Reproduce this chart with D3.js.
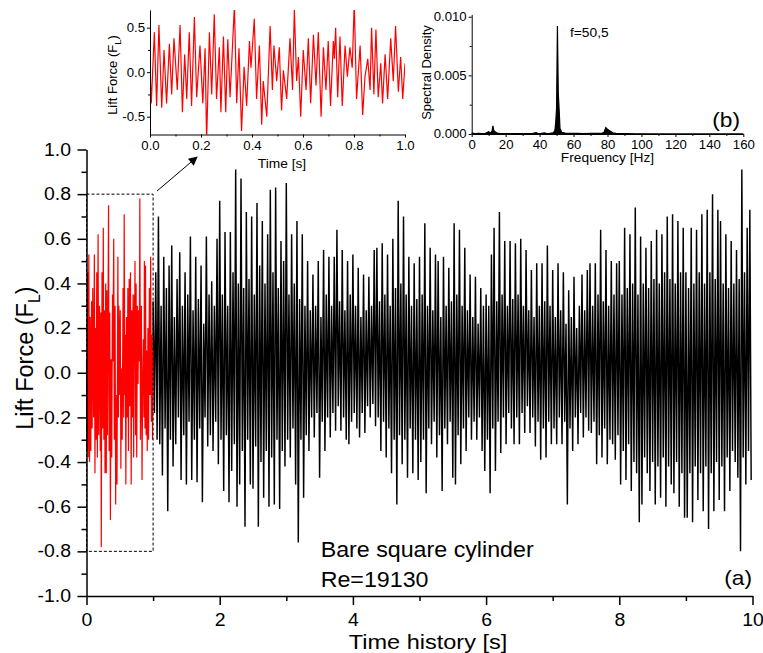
<!DOCTYPE html>
<html>
<head>
<meta charset="utf-8">
<script src="https://cdn.jsdelivr.net/npm/d3@7"></script>
<style>
  body { margin: 0; background: #fff; }
  svg { display: block; font-family: "Liberation Sans", Arial, sans-serif; }
</style>
</head>
<body>
<div id="chart"></div>
<script>
// ---- data ----

// red part (0..1 s), also shown in inset (a)
const redTime = [0.000,0.005,0.017,0.026,0.035,0.046,0.055,0.065,0.076,0.085,
  0.094,0.107,0.118,0.127,0.136,0.144,0.154,0.163,0.174,0.183,
  0.196,0.207,0.216,0.222,0.233,0.242,0.252,0.261,0.272,0.278,
  0.288,0.297,0.305,0.314,0.331,0.340,0.349,0.359,0.369,0.379,
  0.390,0.396,0.409,0.418,0.429,0.438,0.444,0.458,0.471,0.480,
  0.486,0.497,0.507,0.516,0.523,0.536,0.549,0.559,0.566,0.575,
  0.582,0.591,0.601,0.612,0.621,0.630,0.641,0.651,0.660,0.671,
  0.680,0.690,0.699,0.708,0.719,0.723,0.728,0.736,0.745,0.754,
  0.765,0.774,0.784,0.793,0.801,0.810,0.824,0.834,0.843,0.854,
  0.863,0.869,0.878,0.886,0.895,0.905,0.912,0.922,0.932,0.944,
  0.954,0.963,0.974,0.983,0.991,1.000];
const redForce = [0.05,-0.35,0.45,-0.38,0.53,-0.40,0.25,-0.35,0.32,-0.25,
  0.38,-0.20,0.53,-0.45,0.20,-0.30,0.45,-0.38,0.62,-0.28,
  0.30,-0.35,0.27,-0.78,0.45,-0.25,0.65,-0.30,0.28,-0.45,
  0.40,-0.45,0.37,-0.28,0.75,-0.35,0.27,-0.66,0.06,-0.38,
  0.35,0.05,0.60,-0.30,0.30,-0.59,-0.10,-0.50,0.52,-0.20,
  0.30,-0.10,0.28,-0.43,0.02,-0.30,0.38,-0.20,0.71,-0.10,
  0.17,-0.50,0.25,-0.20,0.38,-0.35,0.42,-0.15,0.45,-0.50,
  0.28,-0.20,0.35,-0.38,0.35,0.15,0.50,-0.28,0.40,-0.38,
  0.30,-0.05,0.28,0.05,0.78,-0.30,0.30,-0.48,-0.05,0.15,
  -0.20,0.50,-0.25,0.48,-0.28,0.10,-0.35,0.20,-0.30,0.38,
  -0.10,0.52,-0.22,0.17,-0.30,0.10];

// black part (1..10 s): crests at 1.00 + 0.04k, troughs at 1.02 + 0.04k
const blackStart = 1.0;
const blackStep = 0.02;
const blackPeaks = [
  0.32,0.45,0.70,0.30,0.52,0.38,0.48,0.57,0.25,0.42,0.54,0.30,0.45,0.35,0.61,0.28,0.52,0.33,0.48,0.22,0.61,0.35,0.41,0.30,0.60,
  0.77,0.35,0.63,0.30,0.63,0.45,0.91,0.40,0.87,0.38,0.72,0.42,0.70,0.35,0.76,0.48,0.68,0.40,0.62,0.82,0.45,0.83,0.38,0.59,0.50,
  0.85,0.35,0.62,0.40,0.68,0.33,0.62,0.30,0.50,0.28,0.44,0.30,0.50,0.25,0.55,0.35,0.52,0.30,0.52,0.64,0.32,0.55,0.28,0.50,0.35,
  0.53,0.30,0.47,0.25,0.44,0.28,0.43,0.30,0.55,0.56,0.32,0.58,0.35,0.53,0.30,0.60,0.38,0.77,0.40,0.70,0.35,0.52,0.30,0.49,0.33,
  0.52,0.35,0.67,0.30,0.56,0.28,0.53,0.50,0.25,0.52,0.30,0.47,0.32,0.67,0.35,0.64,0.30,0.56,0.28,0.44,0.25,0.43,0.22,0.38,0.30,
  0.35,0.30,0.53,0.65,0.32,0.72,0.35,0.59,0.30,0.59,0.33,0.58,0.35,0.60,0.30,0.55,0.28,0.46,0.25,0.49,0.30,0.49,0.32,0.57,0.30,
  0.46,0.25,0.49,0.28,0.45,0.22,0.37,0.25,0.43,0.20,0.30,0.44,0.28,0.46,0.49,0.30,0.49,0.35,0.64,0.32,0.55,0.30,0.50,0.35,0.49,
  0.50,0.35,0.65,0.38,0.62,0.40,0.74,0.35,0.61,0.40,0.56,0.38,0.59,0.42,0.64,0.40,0.62,0.45,0.70,0.42,0.71,0.40,0.68,0.45,0.65,
  0.45,0.38,0.65,0.40,0.64,0.45,0.71,0.40,0.73,0.45,0.80,0.42,0.73,0.68,0.40,0.62,0.38,0.59,0.40,0.55,0.42,0.91,0.45,0.65,0.73];
const blackTroughs = [
  -0.18,-0.30,-0.32,-0.46,-0.25,-0.62,-0.30,-0.42,-0.32,-0.20,-0.48,-0.28,-0.50,-0.22,-0.48,-0.30,-0.49,-0.25,-0.58,-0.20,-0.33,-0.28,-0.35,-0.22,-0.41,
  -0.30,-0.53,-0.28,-0.58,-0.44,-0.32,-0.60,-0.50,-0.35,-0.69,-0.30,-0.50,-0.52,-0.33,-0.69,-0.40,-0.56,-0.35,-0.60,-0.38,-0.59,-0.30,-0.61,-0.35,-0.42,
  -0.30,-0.38,-0.25,-0.50,-0.76,-0.30,-0.56,-0.28,-0.35,-0.20,-0.29,-0.18,-0.47,-0.22,-0.35,-0.20,-0.29,-0.18,-0.26,-0.15,-0.26,-0.20,-0.30,-0.32,-0.22,
  -0.18,-0.25,-0.29,-0.18,-0.27,-0.15,-0.20,-0.14,-0.24,-0.20,-0.35,-0.22,-0.38,-0.25,-0.45,-0.30,-0.59,-0.28,-0.41,-0.30,-0.47,-0.25,-0.45,-0.30,-0.48,
  -0.40,-0.30,-0.54,-0.25,-0.32,-0.22,-0.38,-0.28,-0.53,-0.25,-0.32,-0.22,-0.47,-0.50,-0.28,-0.41,-0.25,-0.35,-0.20,-0.30,-0.22,-0.30,-0.20,-0.35,-0.44,
  -0.30,-0.54,-0.25,-0.44,-0.22,-0.36,-0.20,-0.32,-0.18,-0.25,-0.32,-0.20,-0.32,-0.18,-0.27,-0.15,-0.27,-0.20,-0.33,-0.22,-0.39,-0.25,-0.38,-0.22,-0.32,
  -0.25,-0.32,-0.20,-0.32,-0.22,-0.59,-0.25,-0.35,-0.20,-0.32,-0.18,-0.29,-0.20,-0.26,-0.27,-0.22,-0.41,-0.28,-0.38,-0.25,-0.41,-0.30,-0.32,-0.39,-0.28,
  -0.50,-0.35,-0.48,-0.32,-0.53,-0.40,-0.45,-0.67,-0.59,-0.38,-0.45,-0.53,-0.40,-0.59,-0.42,-0.56,-0.38,-0.60,-0.42,-0.50,-0.54,-0.40,-0.60,-0.45,-0.65,
  -0.65,-0.45,-0.67,-0.42,-0.57,-0.45,-0.62,-0.42,-0.70,-0.45,-0.62,-0.40,-0.57,-0.42,-0.62,-0.38,-0.53,-0.35,-0.40,-0.47,-0.80,-0.38,-0.50,-0.35,-0.48];

// inset (b): spectrum
const specFreq = [0,2,4,6,8,9,10,11,12,12.5,13,14,15,17,20,24,28,32,36,38,
  39,41,43,44,46,48,49,49.5,50,50.5,51,51.5,52,53,55,58,62,66,70,74,
  77,78,79,80,81,82,83,85,88,92,96,100,110,120,130,140,150,160];
const specDensity = [0.00008,0.00004,0.00005,0.00003,0.00006,0.00012,0.0002,0.00008,0.00025,0.0007,
  0.0003,0.00018,0.00008,0.00004,0.00003,0.00004,0.00003,0.00004,0.00005,0.00012,
  0.00004,0.00005,0.0001,0.00004,0.00006,0.0001,0.0003,0.001,0.0022,0.0092,
  0.0035,0.0021,0.0005,0.00015,0.00008,0.00005,0.00006,0.00004,0.00006,0.00005,
  0.00008,0.00015,0.00055,0.0004,0.0003,0.00022,0.0001,0.00005,0.00003,0.00004,
  0.00002,0.00002,0.00001,0.00001,0.00001,0.00001,0.00001,0.00001];

// ticks
const mainXTicks = [0, 2, 4, 6, 8, 10];
const mainXMinor = [1, 3, 5, 7, 9];
const mainYTicks = [-1.0, -0.8, -0.6, -0.4, -0.2, 0.0, 0.2, 0.4, 0.6, 0.8, 1.0];
const mainYMinor = [-0.9, -0.7, -0.5, -0.3, -0.1, 0.1, 0.3, 0.5, 0.7, 0.9];
const insetTimeTicks = [0, 0.2, 0.4, 0.6, 0.8, 1.0];
const insetTimeMinor = [0.1, 0.3, 0.5, 0.7, 0.9];
const insetForceTicks = [-0.5, 0, 0.5];
const insetForceMinor = [-0.25, 0.25];
const freqTicks = [0, 20, 40, 60, 80, 100, 120, 140, 160];
const freqMinor = [10, 30, 50, 70, 90, 110, 130, 150];
const densityTicks = [0, 0.005, 0.010];
const densityMinor = [0.0025, 0.0075];

// ---- drawing ----
const FONT = '"Liberation Sans", Arial, sans-serif';
const svg = d3.select('#chart').append('svg').attr('width', 763).attr('height', 653);

// the original figure is a bit wider than tall, widen horizontal texts to match
function stretchText(sel, k) {
  sel.each(function () {
    const len = this.getComputedTextLength();
    d3.select(this).attr('textLength', len * k).attr('lengthAdjust', 'spacingAndGlyphs');
  });
}

function addAxis(orient, scale, at, o) {
  const make = orient === 'left' ? d3.axisLeft : d3.axisBottom;
  const tr = orient === 'left' ? `translate(${at},0)` : `translate(0,${at})`;

  const minor = svg.append('g').attr('transform', tr)
    .call(make(scale).tickValues(o.minor).tickSize(o.minorSize).tickSizeOuter(0).tickFormat(''));
  minor.select('.domain').remove();
  minor.selectAll('line').attr('stroke-width', o.width);

  const major = svg.append('g').attr('transform', tr)
    .call(make(scale).tickValues(o.major).tickSize(o.size).tickSizeOuter(0)
      .tickPadding(o.pad).tickFormat(o.format));
  major.attr('font-family', FONT).attr('font-size', o.fontSize);
  major.selectAll('path, line').attr('stroke-width', o.width);
  major.selectAll('text').attr('fill', '#000').call(stretchText, o.stretch);
  return major;
}

function addText(str, px, py, size, anchor, k) {
  const t = svg.append('text')
    .attr('x', px).attr('y', py)
    .attr('font-size', size)
    .attr('text-anchor', anchor)
    .text(str);
  if (k) t.call(stretchText, k);
  return t;
}

function addRotatedTitle(cx, cy, size, subSize, main, sub, tail) {
  const t = svg.append('text')
    .attr('transform', `translate(${cx},${cy}) rotate(-90)`)
    .attr('text-anchor', 'middle')
    .attr('font-size', size);
  t.append('tspan').text(main);
  t.append('tspan').attr('font-size', subSize).attr('dy', size * 0.28).text(sub);
  t.append('tspan').attr('dy', -size * 0.28).text(tail);
}

// main panel (a)
const x = d3.scaleLinear().domain([0, 10]).range([86.5, 752.5]);
const y = d3.scaleLinear().domain([-1, 1]).range([596, 149.5]);

const redSeries = redTime.map((t, i) => ({ t, v: redForce[i] }));
const blackSeries = [redSeries[redSeries.length - 1]];
blackPeaks.forEach((p, k) => {
  blackSeries.push({ t: blackStart + 2 * k * blackStep, v: p });
  blackSeries.push({ t: blackStart + (2 * k + 1) * blackStep, v: blackTroughs[k] });
});

const mainLine = d3.line().x(d => x(d.t)).y(d => y(d.v));

svg.append('path').datum(blackSeries)
  .attr('d', mainLine).attr('fill', 'none').attr('stroke', '#000').attr('stroke-width', 1.45);
svg.append('path').datum(redSeries)
  .attr('d', mainLine).attr('fill', 'none').attr('stroke', '#ff0000').attr('stroke-width', 1.2);

addAxis('left', y, x(0), {
  major: mainYTicks, minor: mainYMinor, size: 9, minorSize: 5, pad: 6.5,
  format: d => d.toFixed(1), fontSize: 17.5, stretch: 1.11, width: 1.5,
});
addAxis('bottom', x, y(-1), {
  major: mainXTicks, minor: mainXMinor, size: 9, minorSize: 5, pad: 9,
  format: d => String(d), fontSize: 17.5, stretch: 1.11, width: 1.5,
});

addText('Time history [s]', 428, 648.5, 21, 'middle', 1.12);
addRotatedTitle(33, 358, 23.5, 16, 'Lift Force (F', 'L', ')');

addText('Bare square cylinder', 320.7, 556.7, 21.5, 'start', 1.08);
addText('Re=19130', 320.7, 586.7, 21.5, 'start', 1.08);
addText('(a)', 752, 584.5, 21, 'end', 1.08);

// zoom box and arrow
svg.append('rect')
  .attr('x', x(0)).attr('y', y(0.8))
  .attr('width', x(1) - x(0)).attr('height', y(-0.8) - y(0.8))
  .attr('fill', 'none').attr('stroke', '#000').attr('stroke-width', 1)
  .attr('stroke-dasharray', '3,2');

svg.append('defs').append('marker')
  .attr('id', 'head').attr('viewBox', '0 0 10 10')
  .attr('refX', 9).attr('refY', 5)
  .attr('markerWidth', 11).attr('markerHeight', 9)
  .attr('markerUnits', 'userSpaceOnUse')
  .attr('orient', 'auto')
  .append('path').attr('d', 'M0,0L10,5L0,10Z').attr('fill', '#000');

svg.append('line')
  .attr('x1', 157).attr('y1', 191).attr('x2', 197).attr('y2', 157)
  .attr('stroke', '#000').attr('stroke-width', 1)
  .attr('marker-end', 'url(#head)');

// inset (a): first second
const xa = d3.scaleLinear().domain([0, 1]).range([150, 405]);
const ya = d3.scaleLinear().domain([-0.7, 0.7]).range([134.5, 9.9]);

svg.select('defs').append('clipPath').attr('id', 'clipA')
  .append('rect').attr('x', xa(0)).attr('y', ya(0.7))
  .attr('width', xa(1) - xa(0)).attr('height', ya(-0.7) - ya(0.7));

svg.append('path').datum(redSeries)
  .attr('clip-path', 'url(#clipA)')
  .attr('d', d3.line().x(d => xa(d.t)).y(d => ya(d.v)))
  .attr('fill', 'none').attr('stroke', '#ff0000').attr('stroke-width', 1.2);

addAxis('left', ya, xa(0), {
  major: insetForceTicks, minor: insetForceMinor, size: 3, minorSize: 2, pad: 2,
  format: d => d.toFixed(1), fontSize: 12, stretch: 1.1, width: 1,
});
addAxis('bottom', xa, ya(-0.7), {
  major: insetTimeTicks, minor: insetTimeMinor, size: 3, minorSize: 2, pad: 4,
  format: d => d.toFixed(1), fontSize: 12, stretch: 1.1, width: 1,
});
addText('Time [s]', 282, 168, 12.5, 'middle', 1.1);
addRotatedTitle(117, 75, 13, 9.5, 'Lift Force (F', 'L', ')');

// inset (b): spectrum
const xb = d3.scaleLinear().domain([0, 160]).range([471.7, 743.3]);
const yb = d3.scaleLinear().domain([0, 0.0102]).range([134, 14.4]);
const spec = specFreq.map((f, i) => ({ f, s: specDensity[i] }));

svg.append('path').datum(spec)
  .attr('d', d3.area().x(d => xb(d.f)).y0(yb(0)).y1(d => yb(d.s)))
  .attr('fill', '#000');
svg.append('path').datum(spec)
  .attr('d', d3.line().x(d => xb(d.f)).y(d => yb(d.s)))
  .attr('fill', 'none').attr('stroke', '#000').attr('stroke-width', 1.2);

addAxis('left', yb, xb(0), {
  major: densityTicks, minor: densityMinor, size: 3, minorSize: 2, pad: 2,
  format: d => d.toFixed(3), fontSize: 12, stretch: 1.1, width: 1,
});
addAxis('bottom', xb, yb(0), {
  major: freqTicks, minor: freqMinor, size: 3, minorSize: 2, pad: 3,
  format: d => String(d), fontSize: 12, stretch: 1.1, width: 1,
});
addText('Frequency [Hz]', 607.5, 161.7, 12.5, 'middle', 1.1);
addText('f=50,5', 570, 37.3, 12.5, 'start', 1.1);
addText('(b)', 740, 127, 21, 'end', 1.08);

svg.append('text')
  .attr('transform', 'translate(431,72.5) rotate(-90)')
  .attr('text-anchor', 'middle').attr('font-size', 13)
  .text('Spectral Density');
</script>
</body>
</html>
